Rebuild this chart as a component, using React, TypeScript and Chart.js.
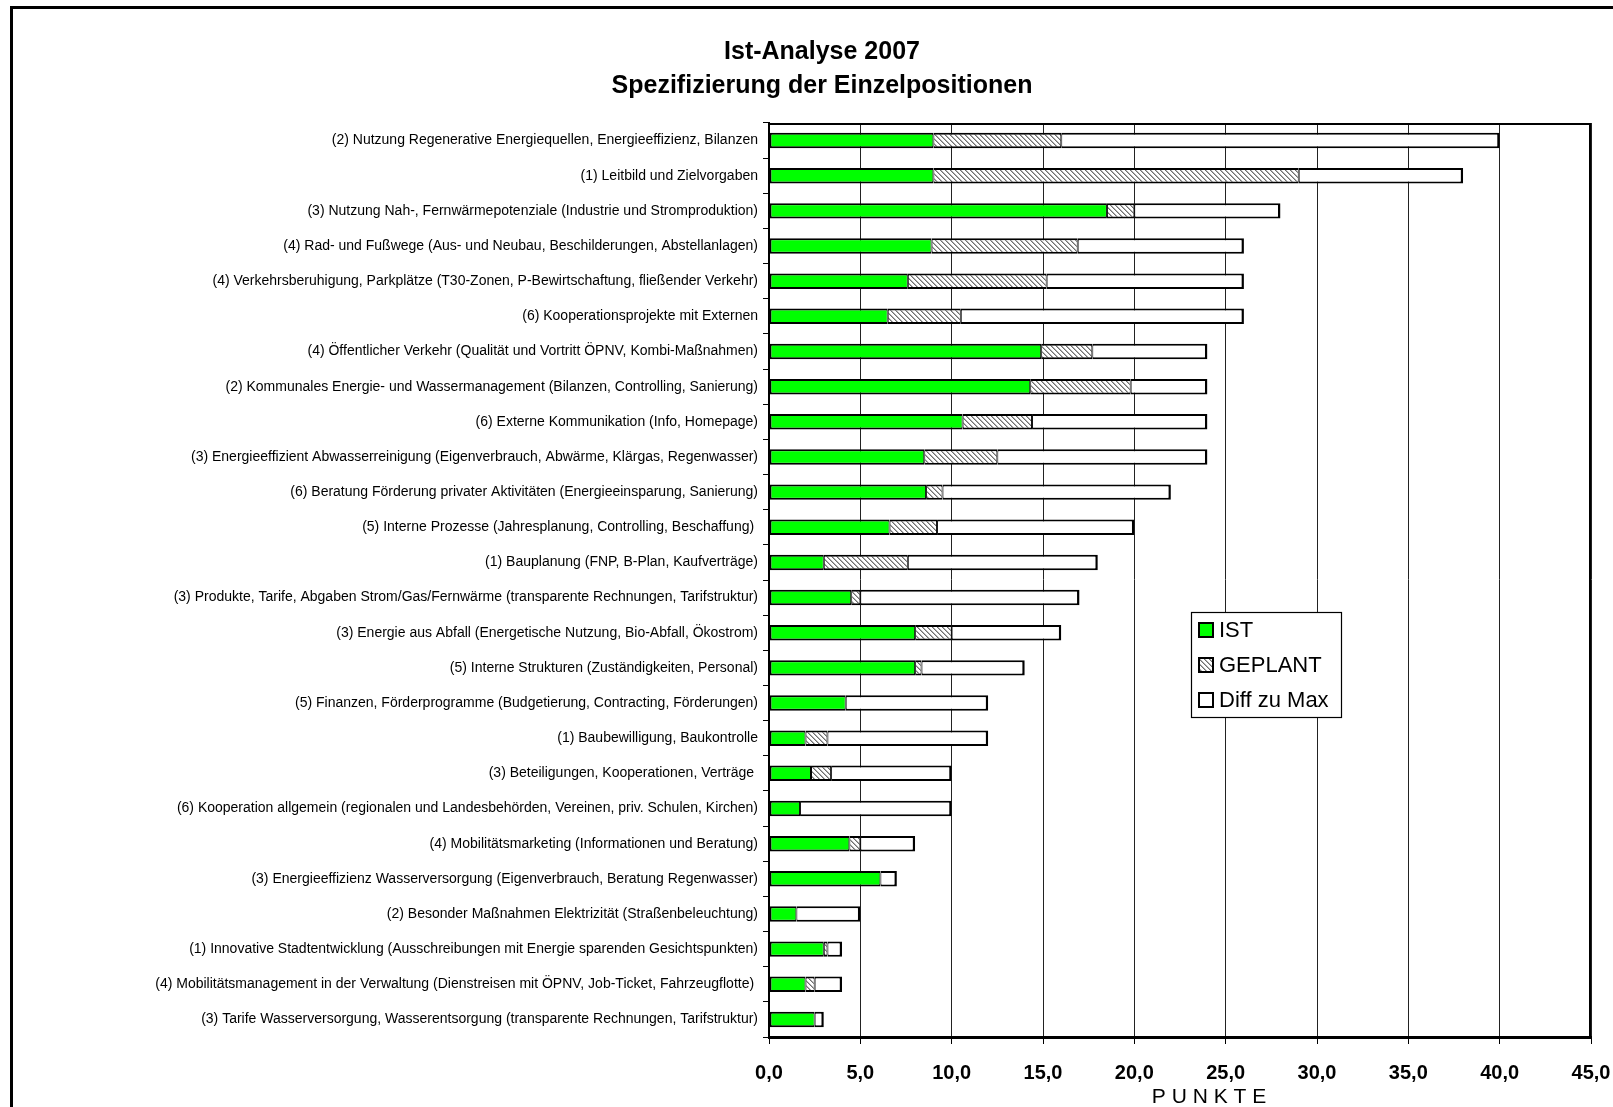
import React, { useEffect, useRef } from 'react';
import { Chart, registerables } from 'chart.js';

Chart.register(...registerables);

const titleLines = ['Ist-Analyse 2007', 'Spezifizierung der Einzelpositionen'];
const axisTitle = 'P U N K T E';
const seriesNames = ['IST', 'GEPLANT', 'Diff zu Max'];

const categories = [
  '(2) Nutzung Regenerative Energiequellen, Energieeffizienz, Bilanzen',
  '(1) Leitbild und Zielvorgaben',
  '(3) Nutzung Nah-, Fernwärmepotenziale (Industrie und Stromproduktion)',
  '(4) Rad- und Fußwege (Aus- und Neubau, Beschilderungen, Abstellanlagen)',
  '(4) Verkehrsberuhigung, Parkplätze (T30-Zonen, P-Bewirtschaftung, fließender Verkehr)',
  '(6) Kooperationsprojekte mit Externen',
  '(4) Öffentlicher Verkehr (Qualität und Vortritt ÖPNV, Kombi-Maßnahmen)',
  '(2) Kommunales Energie- und Wassermanagement (Bilanzen, Controlling, Sanierung)',
  '(6) Externe Kommunikation (Info, Homepage)',
  '(3) Energieeffizient Abwasserreinigung (Eigenverbrauch, Abwärme, Klärgas, Regenwasser)',
  '(6) Beratung Förderung privater Aktivitäten (Energieeinsparung, Sanierung)',
  '(5) Interne Prozesse (Jahresplanung, Controlling, Beschaffung) ',
  '(1) Bauplanung (FNP, B-Plan, Kaufverträge)',
  '(3) Produkte, Tarife, Abgaben Strom/Gas/Fernwärme (transparente Rechnungen, Tarifstruktur)',
  '(3) Energie aus Abfall (Energetische Nutzung, Bio-Abfall, Ökostrom)',
  '(5) Interne Strukturen (Zuständigkeiten, Personal)',
  '(5) Finanzen, Förderprogramme (Budgetierung, Contracting, Förderungen)',
  '(1) Baubewilligung, Baukontrolle',
  '(3) Beteiligungen, Kooperationen, Verträge ',
  '(6) Kooperation allgemein (regionalen und Landesbehörden, Vereinen, priv. Schulen, Kirchen)',
  '(4) Mobilitätsmarketing (Informationen und Beratung)',
  '(3) Energieeffizienz Wasserversorgung (Eigenverbrauch, Beratung Regenwasser)',
  '(2) Besonder Maßnahmen Elektrizität (Straßenbeleuchtung)',
  '(1) Innovative Stadtentwicklung (Ausschreibungen mit Energie sparenden Gesichtspunkten)',
  '(4) Mobilitätsmanagement in der Verwaltung (Dienstreisen mit ÖPNV, Job-Ticket, Fahrzeugflotte) ',
  '(3) Tarife Wasserversorgung, Wasserentsorgung (transparente Rechnungen, Tarifstruktur)',
];

const istValues = [9, 9, 18.5, 8.9, 7.6, 6.5, 14.9, 14.3, 10.6, 8.5, 8.6, 6.6, 3, 4.5, 8, 8, 4.2, 2, 2.3, 1.7, 4.4, 6.1, 1.5, 3, 2, 2.5];
const geplantValues = [7, 20, 1.5, 8, 7.6, 4, 2.8, 5.5, 3.8, 4, 0.9, 2.6, 4.6, 0.5, 2, 0.35, 0, 1.2, 1.1, 0, 0.6, 0, 0, 0.2, 0.5, 0];
const diffZuMaxValues = [24, 9, 8, 9.1, 10.8, 15.5, 6.3, 4.2, 9.6, 11.5, 12.5, 10.8, 10.4, 12, 6, 5.65, 7.8, 8.8, 6.6, 8.3, 3, 0.9, 3.5, 0.8, 1.5, 0.5];

const xMin = 0;
const xMax = 45;
const xStep = 5;

const FONT = '"Liberation Sans", Arial, Helvetica, sans-serif';

function makeHatch(): CanvasPattern | string {
  const c = document.createElement('canvas');
  const n = 5;
  c.width = n;
  c.height = n;
  const g = c.getContext('2d');
  if (!g) return '#aaaaaa';
  g.fillStyle = '#ffffff';
  g.fillRect(0, 0, n, n);
  for (let i = 0; i < n; i++) {
    g.fillStyle = '#707070';
    g.fillRect(i, i, 1, 1);
    g.fillStyle = '#b0b0b0';
    g.fillRect((i + 1) % n, i, 1, 1);
  }
  const p = g.createPattern(c, 'repeat');
  return p || '#aaaaaa';
}

const framePlugin = {
  id: 'frame',
  beforeDraw(chart: any) {
    const ctx = chart.ctx;
    ctx.save();
    ctx.fillStyle = '#ffffff';
    ctx.fillRect(0, 0, chart.width, chart.height);
    ctx.strokeStyle = '#000000';
    ctx.lineWidth = 3;
    ctx.strokeRect(11.5, 7.5, chart.width + 200, chart.height + 200);
    ctx.restore();
  },
  afterDraw(chart: any) {
    const ctx = chart.ctx;
    const a = chart.chartArea;
    ctx.save();
    // plot area top / right border
    ctx.strokeStyle = '#000000';
    ctx.lineWidth = 2;
    ctx.beginPath();
    ctx.moveTo(a.left, a.top + 1);
    ctx.lineTo(a.right - 1, a.top + 1);
    ctx.lineTo(a.right - 1, a.bottom);
    ctx.stroke();

    // axis title
    ctx.fillStyle = '#000000';
    ctx.font = `21px ${FONT}`;
    ctx.textAlign = 'center';
    ctx.textBaseline = 'middle';
    ctx.fillText(axisTitle, a.left + 440, a.bottom + 60);

    // legend
    const lx = a.left + 422;
    const ly = a.top + 489;
    const lw = 150;
    const lh = 105;
    ctx.fillStyle = '#ffffff';
    ctx.fillRect(lx, ly, lw, lh);
    ctx.lineWidth = 1.2;
    ctx.strokeStyle = '#000000';
    ctx.strokeRect(lx + 0.5, ly + 0.5, lw, lh);
    chart.data.datasets.forEach((ds: any, i: number) => {
      const cy = ly + 18 + i * 35;
      const sx = lx + 8;
      ctx.fillStyle = ds.backgroundColor;
      ctx.fillRect(sx, cy - 7, 14, 14);
      ctx.lineWidth = 2;
      ctx.strokeStyle = '#000000';
      ctx.strokeRect(sx, cy - 7, 14, 14);
      ctx.fillStyle = '#000000';
      ctx.font = `22px ${FONT}`;
      ctx.textAlign = 'left';
      ctx.textBaseline = 'middle';
      ctx.fillText(ds.label, sx + 20, cy + 1);
    });
    ctx.restore();
  },
};

export default function App() {
  const canvasRef = useRef<HTMLCanvasElement | null>(null);

  useEffect(() => {
    const canvas = canvasRef.current;
    if (!canvas) return;
    Chart.defaults.font.family = FONT;
    Chart.defaults.color = '#000000';
    const hatch = makeHatch();

    const chart = new Chart(canvas, {
      type: 'bar',
      data: {
        labels: categories,
        datasets: [
          {
            label: seriesNames[0],
            data: istValues,
            backgroundColor: '#00ff00',
            borderColor: '#000000',
            borderWidth: { top: 2, bottom: 2, left: 2, right: 1 },
            borderSkipped: false,
          },
          {
            label: seriesNames[1],
            data: geplantValues,
            backgroundColor: hatch as any,
            borderColor: '#000000',
            borderWidth: { top: 2, bottom: 2, left: 1, right: 1 },
            borderSkipped: false,
          },
          {
            label: seriesNames[2],
            data: diffZuMaxValues,
            backgroundColor: '#ffffff',
            borderColor: '#000000',
            borderWidth: { top: 2, bottom: 2, left: 1, right: 2.5 },
            borderSkipped: false,
          },
        ],
      },
      options: {
        indexAxis: 'y',
        animation: false,
        responsive: true,
        maintainAspectRatio: false,
        datasets: {
          bar: {
            barPercentage: 0.44,
            categoryPercentage: 1,
          },
        },
        layout: {
          padding: { left: 53, right: 22, top: 0, bottom: 0 },
        },
        plugins: {
          legend: { display: false },
          tooltip: { enabled: false },
          title: {
            display: true,
            text: titleLines,
            color: '#000000',
            font: { size: 25, weight: 'bold', family: FONT, lineHeight: 34 / 25 },
            padding: { top: 35, bottom: 20 },
          },
        },
        scales: {
          x: {
            type: 'linear',
            stacked: true,
            min: xMin,
            max: xMax,
            position: 'bottom',
            afterFit: (scale: any) => {
              scale.height = 70;
              scale.paddingRight = 4;
              scale.paddingLeft = 4;
            },
            ticks: {
              stepSize: xStep,
              color: '#000000',
              font: { size: 20, weight: 'bold', family: FONT },
              padding: 17,
              maxRotation: 0,
              callback: (v: any) => Number(v).toFixed(1).replace('.', ','),
            },
            grid: {
              color: '#222222',
              lineWidth: 1,
              drawTicks: true,
              tickLength: 7,
              tickColor: '#000000',
            },
            border: { display: true, color: '#000000', width: 3 },
          },
          y: {
            type: 'category',
            stacked: true,
            afterFit: (scale: any) => {
              scale.width = 716;
            },
            ticks: {
              color: '#000000',
              font: { size: 14, family: FONT },
              padding: 5,
              autoSkip: false,
            },
            grid: {
              display: true,
              drawOnChartArea: false,
              drawTicks: true,
              tickLength: 6,
              color: '#000000',
              tickColor: '#000000',
              offset: true,
            },
            border: { display: true, color: '#000000', width: 2 },
          },
        },
      },
      plugins: [framePlugin],
    } as any);

    return () => {
      chart.destroy();
    };
  }, []);

  return (
    <div
      style={{
        position: 'absolute',
        left: 0,
        top: 0,
        width: 1613,
        height: 1107,
        background: '#ffffff',
      }}
    >
      <canvas ref={canvasRef} />
    </div>
  );
}
